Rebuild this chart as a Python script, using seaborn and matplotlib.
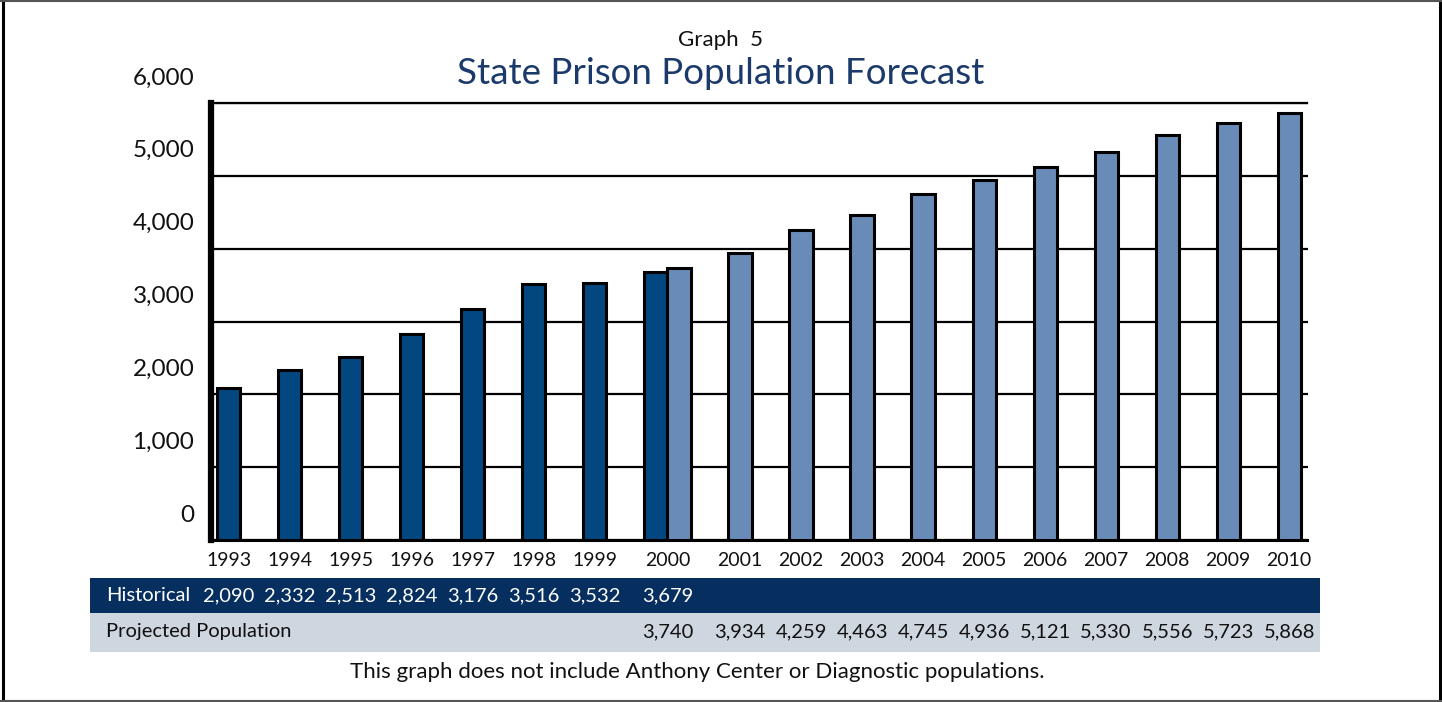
import matplotlib
matplotlib.use("Agg")
import matplotlib.pyplot as plt
from matplotlib.transforms import ScaledTranslation, blended_transform_factory
from matplotlib.lines import Line2D
from matplotlib.patches import Rectangle
import numpy as np
import pandas as pd
import seaborn as sns

# ---------------- data ----------------
years = ["1993", "1994", "1995", "1996", "1997", "1998", "1999", "2000",
         "2001", "2002", "2003", "2004", "2005", "2006", "2007", "2008", "2009", "2010"]
historical_years = ["1993", "1994", "1995", "1996", "1997", "1998", "1999", "2000"]
historical = [2090, 2332, 2513, 2824, 3176, 3516, 3532, 3679]
projected_years = ["2000", "2001", "2002", "2003", "2004", "2005", "2006", "2007",
                   "2008", "2009", "2010"]
projected = [3740, 3934, 4259, 4463, 4745, 4936, 5121, 5330, 5556, 5723, 5868]
y_ticks = [0, 1000, 2000, 3000, 4000, 5000, 6000]
series_names = ["Historical", "Projected Population"]

# ---------------- style ----------------
sns.set_theme(style="white")
plt.rcParams["font.family"] = ["Lato", "DejaVu Sans"]

HIST_C = "#02477F"
PROJ_C = "#688BB8"
ROW1_C = "#062F60"
ROW2_C = "#CED6E0"
TITLE_C = "#1B3A6B"

df = pd.concat([
    pd.DataFrame({"year": historical_years, "value": historical, "series": series_names[0]}),
    pd.DataFrame({"year": projected_years, "value": projected, "series": series_names[1]}),
], ignore_index=True)

W, H, DPI = 1442, 702, 100
fig = plt.figure(figsize=(W / DPI, H / DPI), dpi=DPI)
ax = fig.add_axes([211 / W, 1 - 540 / H, (1307.5 - 211) / W, (540 - 103) / H])

BAR_WIDTH = 0.76
sns.barplot(data=df, x="year", y="value", hue="series", order=years,
            hue_order=series_names, palette={series_names[0]: HIST_C, series_names[1]: PROJ_C},
            width=BAR_WIDTH, dodge=True, saturation=1, errorbar=None,
            edgecolor="black", linewidth=2.2, legend=False, ax=ax, zorder=3)

off = BAR_WIDTH / 4
ax.set_xlim(-0.48, len(years) - 1 + 0.49)
ax.set_ylim(y_ticks[0], y_ticks[-1])

# label positions: under the visible bar(s) for each year
label_pos = []
for i, yr in enumerate(years):
    h = yr in historical_years
    p = yr in projected_years
    if h and p:
        label_pos.append(i)
    elif h:
        label_pos.append(i - off)
    else:
        label_pos.append(i + off)

ax.set_xticks(label_pos)
ax.set_xticklabels(years, fontsize=14, color="#111111")
ax.tick_params(axis="x", length=0, pad=9)
ax.set_xlabel("")
ax.set_ylabel("")

ax.set_yticks(y_ticks)
ax.set_yticklabels([f"{v:,}" for v in y_ticks], fontsize=17.5, color="#111111")
ax.tick_params(axis="y", length=0, pad=12)
shift = ScaledTranslation(0, 27 / DPI, fig.dpi_scale_trans)
for lab in ax.get_yticklabels():
    lab.set_transform(lab.get_transform() + shift)

ax.yaxis.grid(True, color="black", linewidth=1.6)
ax.xaxis.grid(False)
ax.set_axisbelow(True)

for s in ["left", "bottom", "top"]:
    ax.spines[s].set_visible(True)
    ax.spines[s].set_color("black")
ax.spines["right"].set_visible(False)
ax.spines["left"].set_linewidth(4.5)
ax.spines["bottom"].set_linewidth(2.2)
ax.spines["top"].set_linewidth(1.6)

# ---------------- titles ----------------
fig.text(0.5, 1 - 40 / H, "Graph  5", ha="center", va="center", fontsize=16, color="#111111")
fig.text(0.5, 1 - 74 / H, "State Prison Population Forecast", ha="center", va="center",
         fontsize=26.5, color=TITLE_C)

# ---------------- data table ----------------
fig.patches.append(Rectangle((90 / W, 1 - 613 / H), 1230 / W, 35 / H,
                             transform=fig.transFigure, facecolor=ROW1_C, edgecolor="none"))
fig.patches.append(Rectangle((90 / W, 1 - 652 / H), 1230 / W, 39 / H,
                             transform=fig.transFigure, facecolor=ROW2_C, edgecolor="none"))

tr = blended_transform_factory(ax.transData, fig.transFigure)
row1_y = 1 - 595.5 / H
row2_y = 1 - 632 / H
TFS = 14.5
fig.text(106 / W, row1_y, series_names[0], ha="left", va="center", fontsize=TFS, color="white")
fig.text(106 / W, row2_y, series_names[1], ha="left", va="center", fontsize=TFS, color="#111111")
for yr, v in zip(historical_years, historical):
    i = years.index(yr)
    fig.text(label_pos[i], row1_y, f"{v:,}", transform=tr, ha="center", va="center",
             fontsize=TFS, color="white")
for yr, v in zip(projected_years, projected):
    i = years.index(yr)
    fig.text(label_pos[i], row2_y, f"{v:,}", transform=tr, ha="center", va="center",
             fontsize=TFS, color="#111111")

fig.text(697 / W, 1 - 672 / H, "This graph does not include Anthony Center or Diagnostic populations.",
         ha="center", va="center", fontsize=16, color="#111111")

# ---------------- outer frame ----------------
fig.lines.append(Line2D([3.5 / W, 3.5 / W], [0, 1], transform=fig.transFigure, color="black", linewidth=2.2))
fig.lines.append(Line2D([1439.5 / W, 1439.5 / W], [0, 1], transform=fig.transFigure, color="black", linewidth=2.2))
fig.lines.append(Line2D([0, 1], [1 - 1 / H, 1 - 1 / H], transform=fig.transFigure, color="#555555", linewidth=1.5))
fig.lines.append(Line2D([0, 1], [1 / H, 1 / H], transform=fig.transFigure, color="#555555", linewidth=1.5))

fig.savefig("out.png", dpi=DPI, facecolor="white")
